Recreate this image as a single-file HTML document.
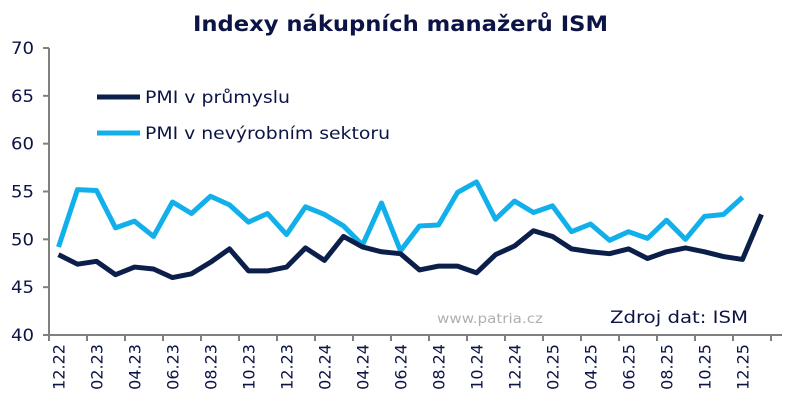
<!DOCTYPE html>
<html><head><meta charset="utf-8"><style>
body{margin:0;background:#fff;}
svg{display:block;font-family:"DejaVu Sans","Liberation Sans",sans-serif;}
</style></head><body>
<svg id="c" width="791" height="411" viewBox="0 0 791 411" xmlns="http://www.w3.org/2000/svg">
<text x="193" y="31" font-size="21" font-weight="bold" fill="#0c1446" textLength="415" lengthAdjust="spacingAndGlyphs">Indexy nákupních manažerů ISM</text>
<g id="ax" stroke="#808080" stroke-width="2" fill="none"></g>
<g id="lab" fill="#0c1446" font-size="16"></g>
<polyline id="s2" fill="none" stroke="#12b0ea" stroke-width="5" stroke-linejoin="round"/>
<polyline id="s1" fill="none" stroke="#0c1e4a" stroke-width="5" stroke-linejoin="round"/>
<line x1="97" y1="97" x2="140" y2="97" stroke="#0c1e4a" stroke-width="5"/>
<text x="145" y="103" font-size="17" fill="#0c1446" textLength="145" lengthAdjust="spacingAndGlyphs">PMI v průmyslu</text>
<line x1="97" y1="133" x2="140" y2="133" stroke="#12b0ea" stroke-width="5"/>
<text x="145" y="139" font-size="17" fill="#0c1446" textLength="245" lengthAdjust="spacingAndGlyphs">PMI v nevýrobním sektoru</text>
<text x="437" y="323" font-size="13" fill="#b0b0b0" textLength="106" lengthAdjust="spacingAndGlyphs">www.patria.cz</text>
<text x="610" y="323" font-size="17" fill="#0c1446" textLength="138" lengthAdjust="spacingAndGlyphs">Zdroj dat: ISM</text>
</svg>
<script>
var m=[48.4,47.4,47.7,46.3,47.1,46.9,46.0,46.4,47.6,49.0,46.7,46.7,47.1,49.1,47.8,50.3,49.2,48.7,48.5,46.8,47.2,47.2,46.5,48.4,49.3,50.9,50.3,49.0,48.7,48.5,49.0,48.0,48.7,49.1,48.7,48.2,47.9,52.6];
var s=[49.2,55.2,55.1,51.2,51.9,50.3,53.9,52.7,54.5,53.6,51.8,52.7,50.5,53.4,52.6,51.4,49.4,53.8,48.8,51.4,51.5,54.9,56.0,52.1,54.0,52.8,53.5,50.8,51.6,49.9,50.8,50.1,52.0,50.0,52.4,52.6,54.4];
function X(i){return 58.5+19*i}function Y(v){return 335-(v-40)*9.567}
document.getElementById('s1').setAttribute('points',m.map((v,i)=>X(i)+','+Y(v)).join(' '));
document.getElementById('s2').setAttribute('points',s.map((v,i)=>X(i)+','+Y(v)).join(' '));
var ax=document.getElementById('ax'),lab=document.getElementById('lab'),h='',l='';
h+='<line x1="49" y1="48" x2="49" y2="335"/><line x1="48" y1="335" x2="782" y2="335"/>';
for(var v=40;v<=70;v+=5){var y=Y(v);h+='<line x1="43" y1="'+y+'" x2="49" y2="'+y+'"/>';l+='<text x="34" y="'+(y+6)+'" text-anchor="end" font-size="17" textLength="23" lengthAdjust="spacingAndGlyphs">'+v+'</text>';}
var labs=['12.22','02.23','04.23','06.23','08.23','10.23','12.23','02.24','04.24','06.24','08.24','10.24','12.24','02.25','04.25','06.25','08.25','10.25','12.25'];
for(var k=0;k<=19;k++){var x=49+38*k;h+='<line x1="'+x+'" y1="335" x2="'+x+'" y2="341"/>';}
labs.forEach(function(t,k){var x=X(2*k)+6;l+='<text transform="translate('+x+',344) rotate(-90)" text-anchor="end" font-size="16">'+t+'</text>';});
ax.innerHTML=h;lab.innerHTML=l;
</script>
</body></html>
